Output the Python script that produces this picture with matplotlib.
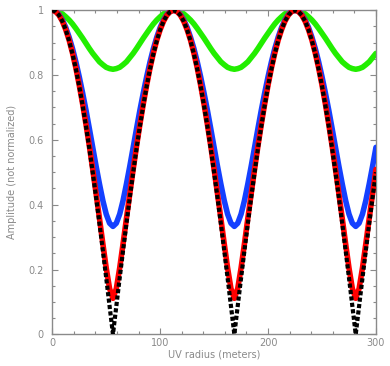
import numpy as np
import matplotlib
matplotlib.use("Agg")
import matplotlib.pyplot as plt
from matplotlib.ticker import MultipleLocator, FixedLocator

# UV radius samples (meters)
uv_radius = np.linspace(0, 300, 97)

# Amplitudes (not normalized)
amp_black = [1.000, 0.996, 0.985, 0.966, 0.940, 0.906, 0.866, 0.819, 0.766, 0.707, 0.643, 0.574, 0.500, 0.423, 0.342, 0.259, 0.174, 0.087, 0.000,
             0.087, 0.174, 0.259, 0.342, 0.423, 0.500, 0.574, 0.643, 0.707, 0.766, 0.819, 0.866, 0.906, 0.940, 0.966, 0.985, 0.996,
             1.000, 0.996, 0.985, 0.966, 0.940, 0.906, 0.866, 0.819, 0.766, 0.707, 0.643, 0.574, 0.500, 0.423, 0.342, 0.259, 0.174, 0.087, 0.000,
             0.087, 0.174, 0.259, 0.342, 0.423, 0.500, 0.574, 0.643, 0.707, 0.766, 0.819, 0.866, 0.906, 0.940, 0.966, 0.985, 0.996,
             1.000, 0.996, 0.985, 0.966, 0.940, 0.906, 0.866, 0.819, 0.766, 0.707, 0.643, 0.574, 0.500, 0.423, 0.342, 0.259, 0.174, 0.087, 0.000,
             0.087, 0.174, 0.259, 0.342, 0.423, 0.500]

amp_red = [1.000, 0.996, 0.985, 0.966, 0.940, 0.908, 0.868, 0.822, 0.769, 0.711, 0.648, 0.581, 0.509, 0.434, 0.358, 0.280, 0.205, 0.141, 0.111,
           0.141, 0.205, 0.280, 0.358, 0.434, 0.509, 0.581, 0.648, 0.711, 0.769, 0.822, 0.868, 0.908, 0.940, 0.966, 0.985, 0.996,
           1.000, 0.996, 0.985, 0.966, 0.940, 0.908, 0.868, 0.822, 0.769, 0.711, 0.648, 0.581, 0.509, 0.434, 0.358, 0.280, 0.205, 0.141, 0.111,
           0.141, 0.205, 0.280, 0.358, 0.434, 0.509, 0.581, 0.648, 0.711, 0.769, 0.822, 0.868, 0.908, 0.940, 0.966, 0.985, 0.996,
           1.000, 0.996, 0.985, 0.966, 0.940, 0.908, 0.868, 0.822, 0.769, 0.711, 0.648, 0.581, 0.509, 0.434, 0.358, 0.280, 0.205, 0.141, 0.111,
           0.141, 0.205, 0.280, 0.358, 0.434, 0.509]

amp_blue = [1.000, 0.997, 0.987, 0.970, 0.947, 0.917, 0.882, 0.841, 0.795, 0.745, 0.692, 0.635, 0.577, 0.519, 0.464, 0.413, 0.371, 0.343, 0.333,
            0.343, 0.371, 0.413, 0.464, 0.519, 0.577, 0.635, 0.692, 0.745, 0.795, 0.841, 0.882, 0.917, 0.947, 0.970, 0.987, 0.997,
            1.000, 0.997, 0.987, 0.970, 0.947, 0.917, 0.882, 0.841, 0.795, 0.745, 0.692, 0.635, 0.577, 0.519, 0.464, 0.413, 0.371, 0.343, 0.333,
            0.343, 0.371, 0.413, 0.464, 0.519, 0.577, 0.635, 0.692, 0.745, 0.795, 0.841, 0.882, 0.917, 0.947, 0.970, 0.987, 0.997,
            1.000, 0.997, 0.987, 0.970, 0.947, 0.917, 0.882, 0.841, 0.795, 0.745, 0.692, 0.635, 0.577, 0.519, 0.464, 0.413, 0.371, 0.343, 0.333,
            0.343, 0.371, 0.413, 0.464, 0.519, 0.577]

amp_green = [1.000, 0.999, 0.995, 0.989, 0.980, 0.970, 0.958, 0.944, 0.929, 0.914, 0.898, 0.882, 0.867, 0.854, 0.841, 0.832, 0.824, 0.820, 0.818,
             0.820, 0.824, 0.832, 0.841, 0.854, 0.867, 0.882, 0.898, 0.914, 0.929, 0.944, 0.958, 0.970, 0.980, 0.989, 0.995, 0.999,
             1.000, 0.999, 0.995, 0.989, 0.980, 0.970, 0.958, 0.944, 0.929, 0.914, 0.898, 0.882, 0.867, 0.854, 0.841, 0.832, 0.824, 0.820, 0.818,
             0.820, 0.824, 0.832, 0.841, 0.854, 0.867, 0.882, 0.898, 0.914, 0.929, 0.944, 0.958, 0.970, 0.980, 0.989, 0.995, 0.999,
             1.000, 0.999, 0.995, 0.989, 0.980, 0.970, 0.958, 0.944, 0.929, 0.914, 0.898, 0.882, 0.867, 0.854, 0.841, 0.832, 0.824, 0.820, 0.818,
             0.820, 0.824, 0.832, 0.841, 0.854, 0.867]

x_ticks = [0, 100, 200, 300]
x_tick_labels = ["0", "100", "200", "300"]
y_ticks = [0, 0.2, 0.4, 0.6, 0.8, 1.0]
y_tick_labels = ["0", "0.2", "0.4", "0.6", "0.8", "1"]

GRAY = "#8a8a8a"

fig = plt.figure(figsize=(3.9, 3.66), dpi=100)
ax = fig.add_axes([0.134, 0.0866, 0.830, 0.8853])

ax.plot(uv_radius, amp_green, color="#22ee00", lw=4.0, solid_capstyle="round", zorder=2)
ax.plot(uv_radius, amp_blue, color="#1440ff", lw=4.0, solid_capstyle="round", zorder=3)
ax.plot(uv_radius, amp_red, color="#ff0000", lw=4.0, solid_capstyle="round", zorder=4)
ax.plot(uv_radius, amp_black, color="black", lw=3.0, linestyle=(0, (1.0, 0.55)),
        dash_capstyle="butt", zorder=5)

ax.set_xlim(0, 300)
ax.set_ylim(0, 1)

ax.xaxis.set_major_locator(FixedLocator(x_ticks))
ax.set_xticklabels(x_tick_labels)
ax.xaxis.set_minor_locator(MultipleLocator(20))
ax.yaxis.set_major_locator(FixedLocator(y_ticks))
ax.set_yticklabels(y_tick_labels)
ax.yaxis.set_minor_locator(MultipleLocator(0.05))

ax.tick_params(which="both", direction="in", top=True, right=True, colors=GRAY,
               labelcolor=GRAY, labelsize=7, width=0.8)
ax.tick_params(which="major", length=4)
ax.tick_params(which="minor", length=2)
ax.tick_params(axis="y", pad=6)
ax.tick_params(axis="x", pad=3)

for sp in ax.spines.values():
    sp.set_color(GRAY)
    sp.set_linewidth(1.0)

ax.set_xlabel("UV radius (meters)", color=GRAY, fontsize=7, labelpad=1)
ax.set_ylabel("Amplitude (not normalized)", color=GRAY, fontsize=7, labelpad=8)

fig.savefig("out.png", dpi=100)
